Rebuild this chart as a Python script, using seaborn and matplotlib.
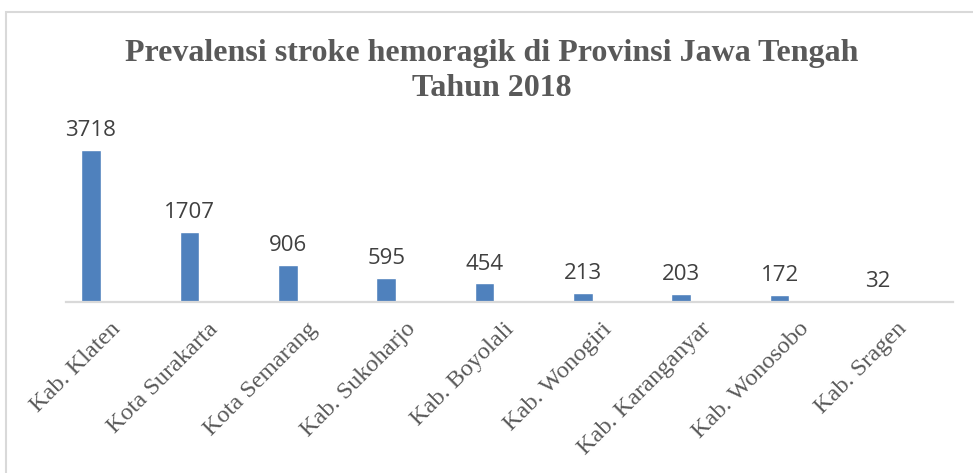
import matplotlib
matplotlib.use("Agg")
import matplotlib.pyplot as plt
import matplotlib.transforms as mtransforms
from matplotlib.patches import Rectangle
import seaborn as sns
import pandas as pd

# %% data
kabupaten = ["Kab. Klaten", "Kota Surakarta", "Kota Semarang", "Kab. Sukoharjo",
             "Kab. Boyolali", "Kab. Wonogiri", "Kab. Karanganyar", "Kab. Wonosobo",
             "Kab. Sragen"]
jumlah = [3718, 1707, 906, 595, 454, 213, 203, 172, 32]

judul = "Prevalensi stroke hemoragik di Provinsi Jawa Tengah\nTahun 2018"

datos = pd.DataFrame({"kabupaten": kabupaten, "jumlah": jumlah})

# %% plot
sns.set_style("white")
plt.rcParams["font.family"] = ["Liberation Serif", "DejaVu Serif"]

fig = plt.figure(figsize=(9.73, 4.73), dpi=100)
ax = fig.add_axes([66 / 973, 1 - 302 / 473, (953 - 66) / 973, (302 - 138.5) / 473])

sns.barplot(data=datos, x="kabupaten", y="jumlah", color="#4F81BD",
            width=0.2, saturation=1, ax=ax)

ax.set_ylim(0, 4000)
# las barras quedan a la izquierda de cada categoria (como en excel)
ax.set_xlim(-0.254, len(kabupaten) - 1 + 0.762)
ax.set_xlabel("")
ax.set_ylabel("")
ax.set_yticks([])
for s in ["top", "right", "left"]:
    ax.spines[s].set_visible(False)
ax.spines["bottom"].set_color("#D9D9D9")
ax.spines["bottom"].set_linewidth(1.6)
ax.tick_params(axis="x", length=0, pad=0)

# etiquetas de valores
for i, v in enumerate(jumlah):
    ax.annotate(str(v), (i, v), xytext=(0, 10), textcoords="offset points",
                ha="center", va="baseline", fontsize=16, color="#404040",
                family=["Open Sans", "DejaVu Sans"])

# etiquetas del eje x rotadas
ax.set_xticks(range(len(kabupaten)))
ax.set_xticklabels(kabupaten, rotation=45, ha="right", va="center",
                   rotation_mode="anchor", fontsize=17.5, color="#595959")
offset = mtransforms.ScaledTranslation(26 / 100, -24 / 100, fig.dpi_scale_trans)
for lab in ax.get_xticklabels():
    lab.set_transform(lab.get_transform() + offset)

# titulo
fig.text(492 / 973, 1 - 71 / 473, judul, ha="center", va="center",
         fontsize=23, fontweight="bold", color="#595959", linespacing=1.25)

# borde del grafico
fig.patches.append(Rectangle((6 / 973, -0.1), 1.2, 1.1 - 12 / 473,
                             transform=fig.transFigure, fill=False,
                             ec="#D9D9D9", lw=1.5))

fig.savefig("out.png", dpi=100)
